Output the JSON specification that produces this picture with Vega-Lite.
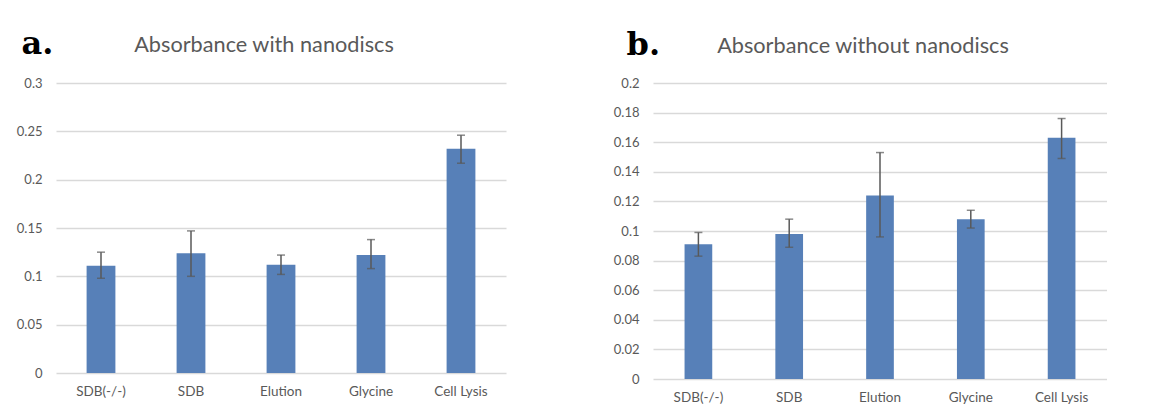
{
  "$schema": "https://vega.github.io/schema/vega-lite/v6.json",
  "background": "white",
  "padding": {"left": 16, "top": 27, "right": 0, "bottom": 0},
  "spacing": 107,
  "config": {
    "view": {"stroke": null},
    "font": "Lato",
    "axisX": {"title": null, "domain": false, "ticks": false, "labelAngle": 0, "labelFontSize": 13.5, "labelColor": "#595959", "labelFont": "Lato", "labelPadding": 11, "grid": false},
    "axisY": {"domain": false, "ticks": false, "grid": true, "gridColor": "#D9D9D9", "gridWidth": 1.3, "labelFontSize": 13, "labelColor": "#595959", "labelFont": "Lato", "labelPadding": 14, "format": "~g", "labelOverlap": false, "tickCount": 12,
      "titleFont": "DejaVu Serif", "titleFontWeight": "bold", "titleFontSize": 32, "titleColor": "#000000", "titleAngle": 0, "titleAlign": "left", "titleBaseline": "alphabetic"},
    "title": {"fontSize": 21.7, "font": "Lato", "fontWeight": "normal", "color": "#595959", "dx": -17, "offset": -30}
  },
  "hconcat": [
    {
      "width": 450, "height": 290,
      "title": "Absorbance with nanodiscs",
      "data": {"values": [
        {"cat": "SDB(-/-)", "mean": 0.111, "lo": 0.098, "hi": 0.125},
        {"cat": "SDB", "mean": 0.124, "lo": 0.100, "hi": 0.147},
        {"cat": "Elution", "mean": 0.112, "lo": 0.102, "hi": 0.122},
        {"cat": "Glycine", "mean": 0.122, "lo": 0.108, "hi": 0.138},
        {"cat": "Cell Lysis", "mean": 0.232, "lo": 0.217, "hi": 0.246}
      ]},
      "encoding": {"x": {"field": "cat", "type": "nominal", "sort": null, "scale": {"paddingInner": 0, "paddingOuter": 0}}},
      "layer": [
        {"mark": {"type": "bar", "color": "#5780B8", "width": {"band": 0.32}},
         "encoding": {"y": {"field": "mean", "type": "quantitative", "title": "a.", "scale": {"domain": [0, 0.3]},
           "axis": {"values": [0, 0.05, 0.1, 0.15, 0.2, 0.25, 0.3], "tickCount": 12, "titleX": -35, "titleY": -30}}}},
        {"mark": {"type": "rule", "color": "#595959", "strokeWidth": 1.5},
         "encoding": {"y": {"field": "lo", "type": "quantitative", "title": "a."}, "y2": {"field": "hi"}}},
        {"mark": {"type": "tick", "color": "#595959", "thickness": 1.5, "size": 8},
         "encoding": {"y": {"field": "lo", "type": "quantitative", "title": "a."}}},
        {"mark": {"type": "tick", "color": "#595959", "thickness": 1.5, "size": 8},
         "encoding": {"y": {"field": "hi", "type": "quantitative", "title": "a."}}}
      ]
    },
    {
      "width": 454, "height": 296,
      "title": "Absorbance without nanodiscs",
      "data": {"values": [
        {"cat": "SDB(-/-)", "mean": 0.091, "lo": 0.083, "hi": 0.099},
        {"cat": "SDB", "mean": 0.098, "lo": 0.089, "hi": 0.108},
        {"cat": "Elution", "mean": 0.124, "lo": 0.096, "hi": 0.153},
        {"cat": "Glycine", "mean": 0.108, "lo": 0.102, "hi": 0.114},
        {"cat": "Cell Lysis", "mean": 0.163, "lo": 0.149, "hi": 0.176}
      ]},
      "encoding": {"x": {"field": "cat", "type": "nominal", "sort": null, "scale": {"paddingInner": 0, "paddingOuter": 0}}},
      "layer": [
        {"mark": {"type": "bar", "color": "#5780B8", "width": {"band": 0.305}},
         "encoding": {"y": {"field": "mean", "type": "quantitative", "title": "b.", "scale": {"domain": [0, 0.2]},
           "axis": {"values": [0, 0.02, 0.04, 0.06, 0.08, 0.1, 0.12, 0.14, 0.16, 0.18, 0.2], "tickCount": 12, "titleX": -27, "titleY": -29}}}},
        {"mark": {"type": "rule", "color": "#595959", "strokeWidth": 1.5},
         "encoding": {"y": {"field": "lo", "type": "quantitative", "title": "b."}, "y2": {"field": "hi"}}},
        {"mark": {"type": "tick", "color": "#595959", "thickness": 1.5, "size": 8},
         "encoding": {"y": {"field": "lo", "type": "quantitative", "title": "b."}}},
        {"mark": {"type": "tick", "color": "#595959", "thickness": 1.5, "size": 8},
         "encoding": {"y": {"field": "hi", "type": "quantitative", "title": "b."}}}
      ]
    }
  ]
}
